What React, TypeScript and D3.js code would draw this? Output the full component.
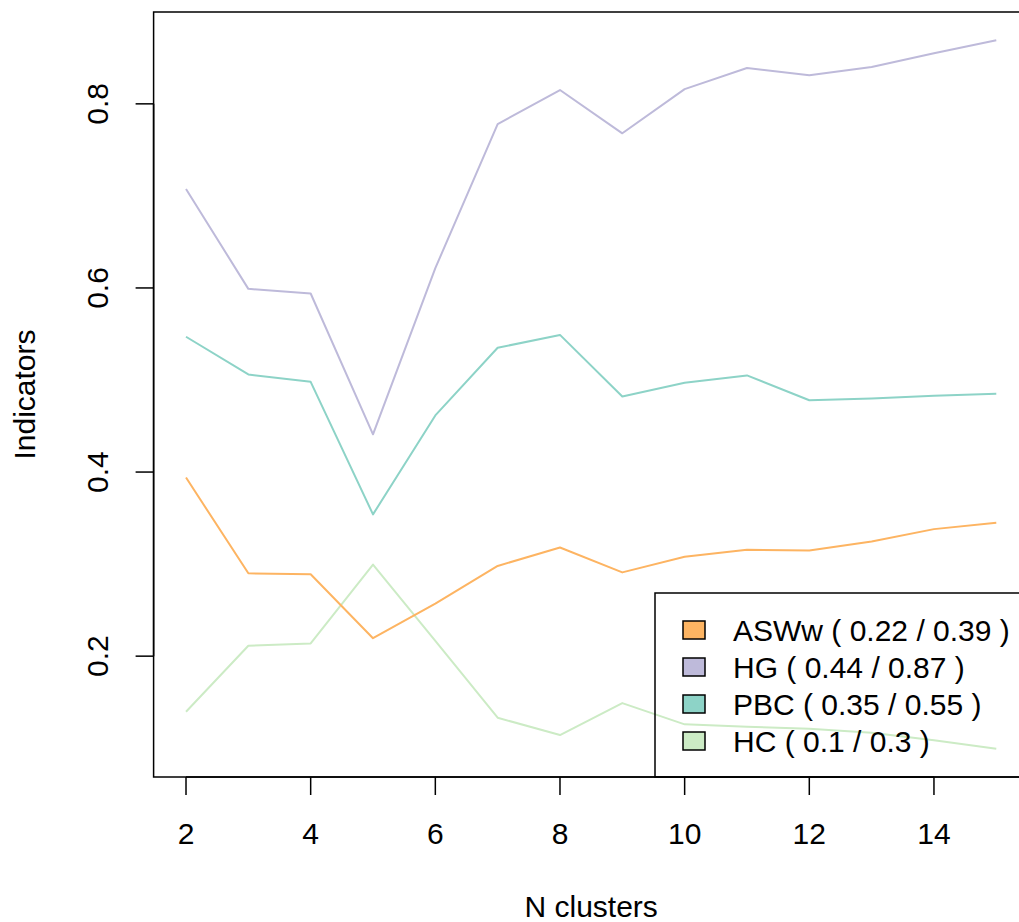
import React from 'react';
import * as d3 from 'd3';

const nClusters = [2, 3, 4, 5, 6, 7, 8, 9, 10, 11, 12, 13, 14, 15];
const aswwValues = [0.394, 0.29, 0.289, 0.2195, 0.257, 0.298, 0.318, 0.291, 0.308, 0.3155, 0.3147, 0.3245, 0.338, 0.345];
const hgValues = [0.7075, 0.599, 0.594, 0.441, 0.6215, 0.778, 0.815, 0.768, 0.816, 0.839, 0.831, 0.84, 0.855, 0.869];
const pbcValues = [0.547, 0.506, 0.498, 0.354, 0.4615, 0.535, 0.549, 0.482, 0.497, 0.505, 0.478, 0.48, 0.483, 0.485];
const hcValues = [0.1396, 0.2113, 0.2138, 0.2995, 0.2167, 0.1331, 0.1143, 0.149, 0.1259, 0.1234, 0.1212, 0.1169, 0.1087, 0.0995];

const seriesNames = ['ASWw', 'HG', 'PBC', 'HC'];
const legendLabels = ['ASWw ( 0.22 / 0.39 )', 'HG ( 0.44 / 0.87 )', 'PBC ( 0.35 / 0.55 )', 'HC ( 0.1 / 0.3 )'];
const seriesColors = ['#FDB462', '#BEBADA', '#8DD3C7', '#CCEBC5'];
const xTicks = [2, 4, 6, 8, 10, 12, 14];
const yTicks = [0.2, 0.4, 0.6, 0.8];

const W = 1019;
const H = 922;
const FONT = '"Liberation Sans", Arial, Helvetica, sans-serif';
const FS = 30;

export default function App() {
  const series = [aswwValues, hgValues, pbcValues, hcValues];

  // R-style 4% padding on both axes
  const left = 153.6, right = 1028.7, top = 12, bottom = 777;
  const xMin = d3.min(nClusters)!, xMax = d3.max(nClusters)!;
  const xPad = (xMax - xMin) * 0.04;
  const all = series.flat();
  const yMin = d3.min(all)!, yMax = d3.max(all)!;
  const yPad = (yMax - yMin) * 0.04;

  const x = d3.scaleLinear().domain([xMin - xPad, xMax + xPad]).range([left, right]);
  const y = d3.scaleLinear().domain([yMin - yPad, yMax + yPad]).range([bottom, top]);

  const line = d3.line<number>()
    .x((_, i) => x(nClusters[i]))
    .y(d => y(d));

  const drawOrder = [3, 0, 1, 2];

  // legend layout
  const legLeft = 655;
  const legTop = 593;
  const rowH = 37;

  return (
    <svg width={W} height={H} style={{ position: 'absolute', left: 0, top: 0, background: '#fff' }}
      fontFamily={FONT}>
      {/* series lines */}
      {drawOrder.map(k => (
        <path key={seriesNames[k]} d={line(series[k]) || ''} fill="none"
          stroke={seriesColors[k]} strokeWidth={2} strokeLinejoin="round" />
      ))}

      {/* plot box */}
      <rect x={left} y={top} width={right - left} height={bottom - top} fill="none" stroke="#000" strokeWidth={1.5} />

      {/* x axis */}
      <line x1={x(xTicks[0])} x2={x(xTicks[xTicks.length - 1])} y1={bottom} y2={bottom} stroke="#000" strokeWidth={1.5} />
      {xTicks.map(t => (
        <g key={t}>
          <line x1={x(t)} x2={x(t)} y1={bottom} y2={bottom + 18} stroke="#000" strokeWidth={1.5} />
          <text x={x(t)} y={844} textAnchor="middle" fontSize={FS}>{t}</text>
        </g>
      ))}
      <text x={(left + right) / 2} y={917} textAnchor="middle" fontSize={FS}>N clusters</text>

      {/* y axis */}
      <line x1={left} x2={left} y1={y(yTicks[0])} y2={y(yTicks[yTicks.length - 1])} stroke="#000" strokeWidth={1.5} />
      {yTicks.map(t => (
        <g key={t}>
          <line x1={left - 18} x2={left} y1={y(t)} y2={y(t)} stroke="#000" strokeWidth={1.5} />
          <text transform={`translate(108,${y(t)}) rotate(-90)`} textAnchor="middle" fontSize={FS}>{t}</text>
        </g>
      ))}
      <text transform={`translate(35,${(top + bottom) / 2}) rotate(-90)`} textAnchor="middle" fontSize={FS}>Indicators</text>

      {/* legend */}
      <rect x={legLeft} y={legTop} width={right - legLeft} height={bottom - legTop} fill="none" stroke="#000" strokeWidth={1.5} />
      {legendLabels.map((lab, i) => {
        const cy = 630 + i * rowH;
        return (
          <g key={lab}>
            <rect x={683} y={cy - 9} width={22} height={18} fill={seriesColors[i]} stroke="#000" strokeWidth={1.5} />
            <text x={733} y={cy + 11} fontSize={FS}>{lab}</text>
          </g>
        );
      })}
    </svg>
  );
}
